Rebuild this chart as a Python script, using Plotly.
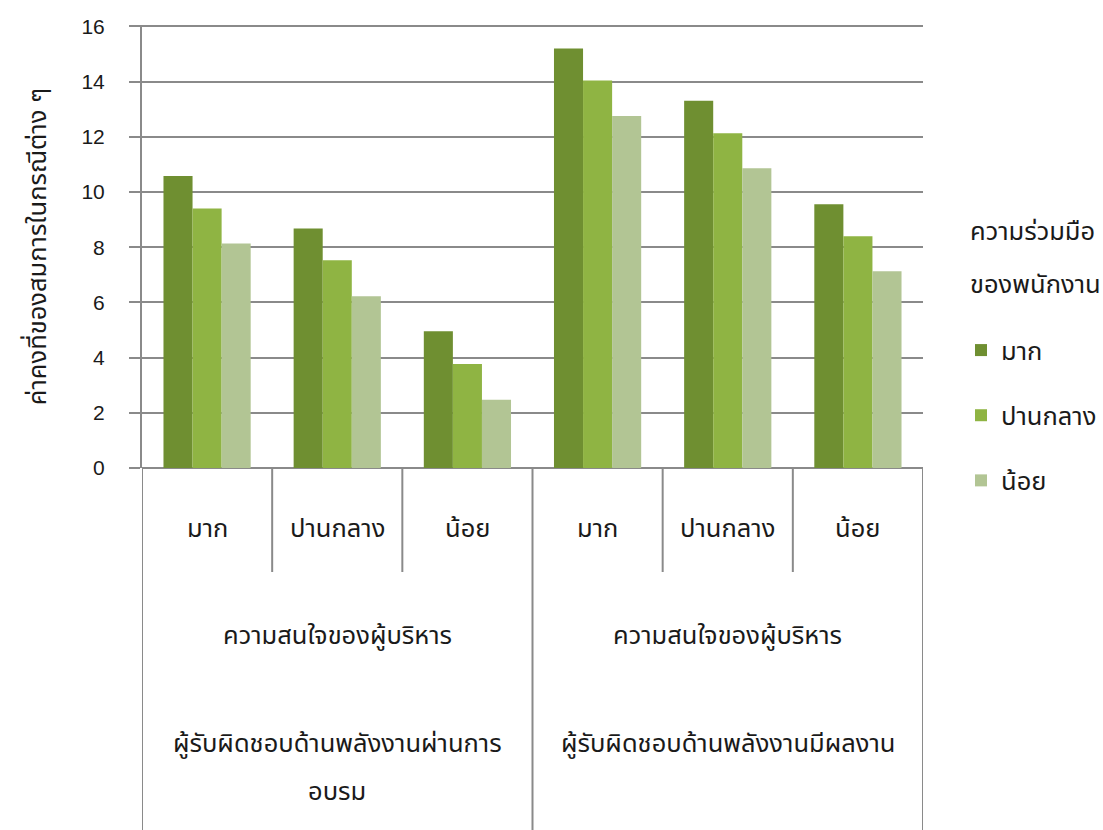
import plotly.graph_objects as go

# ---- data ----
level1_labels = ["มาก", "ปานกลาง", "น้อย", "มาก", "ปานกลาง", "น้อย"]
level2_labels = ["ความสนใจของผู้บริหาร", "ความสนใจของผู้บริหาร"]
level3_lines = [["ผู้รับผิดชอบด้านพลังงานผ่านการ", "อบรม"],
                ["ผู้รับผิดชอบด้านพลังงานมีผลงาน"]]
series_names = ["มาก", "ปานกลาง", "น้อย"]
values_mak = [10.58, 8.68, 4.95, 15.20, 13.31, 9.56]
values_panklang = [9.40, 7.53, 3.77, 14.04, 12.13, 8.40]
values_noi = [8.13, 6.22, 2.47, 12.75, 10.86, 7.13]
y_title = "ค่าคงที่ของสมการในกรณีต่าง ๆ"
legend_title_lines = ["ความร่วมมือ", "ของพนักงาน"]
y_ticks = [0, 2, 4, 6, 8, 10, 12, 14, 16]

series_values = [values_mak, values_panklang, values_noi]
colors = ["#6f8f31", "#8fb443", "#b2c594"]

THAI = "Noto Sans Thai, Tahoma, Noto Sans, sans-serif"
NUM = "Liberation Sans, Arial, sans-serif"
GRID = "#8a8a8a"
TXT = "#1a1a1a"
FS = 25.5

x_idx = list(range(len(level1_labels)))
n_per_group = len(level1_labels) // len(level2_labels)

fig = go.Figure()
for i, (name, vals) in enumerate(zip(series_names, series_values)):
    fig.add_trace(go.Bar(
        x=x_idx, y=vals, name=name, legendgroup=name,
        marker=dict(color=colors[i], line=dict(width=0)),
        customdata=level1_labels,
        hovertemplate="%{customdata}: %{y}<extra>" + name + "</extra>",
    ))

W, H = 1103, 830
L, R, T, B = 142, 180, 25, 362
plot_h = H - T - B
plot_w = W - L - R

def py(px):
    return (H - B - px) / plot_h

def pxx(px):
    return (px - L) / plot_w

TEXT_SHIFT = 20

shapes = []
# vertical dividers of the category table
for k in range(len(level1_labels) + 1):
    xpos = k - 0.5
    full = (k % n_per_group == 0)
    shapes.append(dict(type="line", xref="x", yref="paper",
                       x0=xpos, x1=xpos, y0=0, y1=py(H) if full else py(572),
                       line=dict(color=GRID, width=2)))

annotations = []
for k, lab in enumerate(level1_labels):
    annotations.append(dict(x=k, y=py(530 + TEXT_SHIFT), xref="x", yref="paper", text=lab,
                            showarrow=False, font=dict(family=THAI, size=FS, color=TXT)))
for g, lab in enumerate(level2_labels):
    cx = g * n_per_group + (n_per_group - 1) / 2
    annotations.append(dict(x=cx, y=py(637 + TEXT_SHIFT), xref="x", yref="paper", text=lab,
                            showarrow=False, font=dict(family=THAI, size=FS, color=TXT)))
    for j, line in enumerate(level3_lines[g]):
        annotations.append(dict(x=cx, y=py(745 + 48 * j + TEXT_SHIFT), xref="x", yref="paper",
                                text=line, showarrow=False,
                                font=dict(family=THAI, size=FS, color=TXT)))
# legend title (two lines, wide spacing)
for j, line in enumerate(legend_title_lines):
    annotations.append(dict(x=pxx(968), y=py(232 + 53 * j), xref="paper", yref="paper",
                            text=line, showarrow=False, xanchor="left",
                            font=dict(family=THAI, size=FS, color=TXT)))

fig.update_layout(
    width=W, height=H,
    margin=dict(l=L, r=R, t=T, b=B, autoexpand=False),
    paper_bgcolor="white", plot_bgcolor="white",
    barmode="group", bargap=0.33, bargroupgap=0,
    showlegend=True,
    legend=dict(
        font=dict(family=THAI, size=FS, color=TXT),
        x=pxx(961), xanchor="left", y=py(327), yanchor="top",
        tracegroupgap=29, bgcolor="rgba(0,0,0,0)",
    ),
    xaxis=dict(range=[-0.5, len(level1_labels) - 0.5], showticklabels=False,
               showgrid=False, zeroline=False, showline=False, ticks=""),
    yaxis=dict(range=[0, 16.05], tickvals=y_ticks, showgrid=True, gridcolor=GRID, gridwidth=2,
               zeroline=True, zerolinecolor=GRID, zerolinewidth=2,
               showline=True, linecolor=GRID, linewidth=2,
               ticks="outside", ticklen=11, tickwidth=2, tickcolor=GRID,
               ticklabelstandoff=20,
               tickfont=dict(family=NUM, size=21, color=TXT),
               title=dict(text=y_title, standoff=28, font=dict(family=THAI, size=FS, color=TXT)),
               automargin=False),
    shapes=shapes,
    annotations=annotations,
)

fig.write_html("out.html")
